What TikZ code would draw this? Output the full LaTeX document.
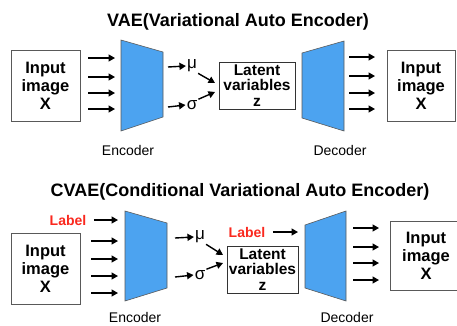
\documentclass[tikz,border=0pt]{standalone}
\usepackage{fontspec}
\setmainfont{Liberation Sans}
\usetikzlibrary{arrows.meta}
\definecolor{netblue}{RGB}{76,163,240}
\definecolor{labelred}{RGB}{250,40,30}
\tikzset{
  imgbox/.style={draw=black!65, line width=0.8pt, align=center, inner sep=0pt,
    font=\bfseries\fontsize{16.5}{18}\selectfont},
  latbox/.style={draw=black!80, line width=0.8pt, align=center, inner sep=0pt,
    font=\bfseries\fontsize{15.5}{15.5}\selectfont},
  flow/.style={-{Triangle[length=6.5pt,width=7pt]}, line width=1.4pt},
  net/.style={fill=netblue, draw=black!65, line width=0.6pt},
  titletext/.style={font=\bfseries\fontsize{18}{20}\selectfont},
  captext/.style={font=\fontsize{14}{16}\selectfont},
  stat/.style={font=\fontsize{17}{18}\selectfont, inner sep=1pt},
  condlabel/.style={text=labelred, font=\bfseries\fontsize{14}{15}\selectfont},
}
\begin{document}
\begin{tikzpicture}[x=1pt,y=-1pt]
  \useasboundingbox (0,0) rectangle (457,325);

  %%%%% VAE %%%%%
  \node[titletext] (vaetitle) at (238,22) {VAE(Variational Auto Encoder)};

  \node[imgbox, minimum width=69pt, minimum height=71pt] (vin) at (45.5,85.5) {Input\\image\\X};
  \node[latbox, minimum width=76pt, minimum height=47pt] (vlat) at (257,85.5) {Latent\\variables\\z};
  \node[imgbox, minimum width=68pt, minimum height=71pt] (vout) at (421,85.5) {Input\\image\\X};

  % encoder / decoder
  \draw[net] (121,40) -- (163,52) -- (163,117) -- (121,131) -- cycle;
  \draw[net] (302,53) -- (344,41) -- (344,131) -- (302,118) -- cycle;
  \node[captext] (venc) at (128,150) {Encoder};
  \node[captext] (vdec) at (340,150) {Decoder};

  \foreach \yy [count=\i] in {58,77,93,109} {
    \coordinate (va\i) at (88,\yy);
    \coordinate (vb\i) at (115,\yy);
    \draw[flow] (va\i) -- (vb\i);
  }
  \foreach \yy [count=\i] in {57,76,93,109} {
    \coordinate (vc\i) at (349,\yy);
    \coordinate (vd\i) at (375,\yy);
    \draw[flow] (vc\i) -- (vd\i);
  }

  \node[stat] (vmu) at (192,66) {μ};
  \node[stat] (vsig) at (192,105) {σ};
  \coordinate (vmu0) at (168,67);
  \coordinate (vsig0) at (168,107);
  \draw[flow] (vmu0) -- (vmu.west);
  \draw[flow] (vsig0) -- (vsig.west);
  \coordinate (vmu1) at (215,83);
  \coordinate (vsig1) at (215,92);
  \draw[flow] (vmu.south east) -- (vmu1);
  \draw[flow] (vsig.north east) -- (vsig1);

  %%%%% CVAE %%%%%
  \node[titletext] (cvaetitle) at (240,192) {CVAE(Conditional Variational Auto Encoder)};

  \node[imgbox, minimum width=69pt, minimum height=71pt] (cin) at (45.5,268.5) {Input\\image\\X};
  \node[latbox, minimum width=71pt, minimum height=47pt] (clat) at (262.5,269.5) {Latent\\variables\\z};
  \node[imgbox, minimum width=72pt, minimum height=69pt] (cout) at (426,255.5) {Input\\image\\X};

  % encoder / decoder
  \draw[net] (125,211) -- (167,223) -- (167,288) -- (125,301) -- cycle;
  \draw[net] (305,225) -- (346,211) -- (346,301) -- (305,288) -- cycle;
  \node[captext] (cenc) at (135,317) {Encoder};
  \node[captext] (cdec) at (347,317) {Decoder};

  \node[condlabel] (clab1) at (68,220) {Label};
  \coordinate (clab1b) at (118,220);
  \draw[flow] (clab1.east) ++(4,0) -- (clab1b);
  \node[condlabel] (clab2) at (247,232) {Label};
  \coordinate (clab2b) at (298,232);
  \draw[flow] (clab2.east) ++(4,0) -- (clab2b);

  \foreach \yy [count=\i] in {241,259,276,293} {
    \coordinate (ca\i) at (91,\yy);
    \coordinate (cb\i) at (118,\yy);
    \draw[flow] (ca\i) -- (cb\i);
  }
  \foreach \yy [count=\i] in {228,247,263,280} {
    \coordinate (cc\i) at (353,\yy);
    \coordinate (cd\i) at (379,\yy);
    \draw[flow] (cc\i) -- (cd\i);
  }

  \node[stat] (cmu) at (200,237) {μ};
  \node[stat] (csig) at (200,275) {σ};
  \coordinate (cmu0) at (175,238);
  \coordinate (csig0) at (175,277);
  \draw[flow] (cmu0) -- (cmu.west);
  \draw[flow] (csig0) -- (csig.west);
  \coordinate (cmu1) at (223,255);
  \coordinate (csig1) at (223,263);
  \draw[flow] (cmu.south east) -- (cmu1);
  \draw[flow] (csig.north east) -- (csig1);
\end{tikzpicture}
\end{document}
